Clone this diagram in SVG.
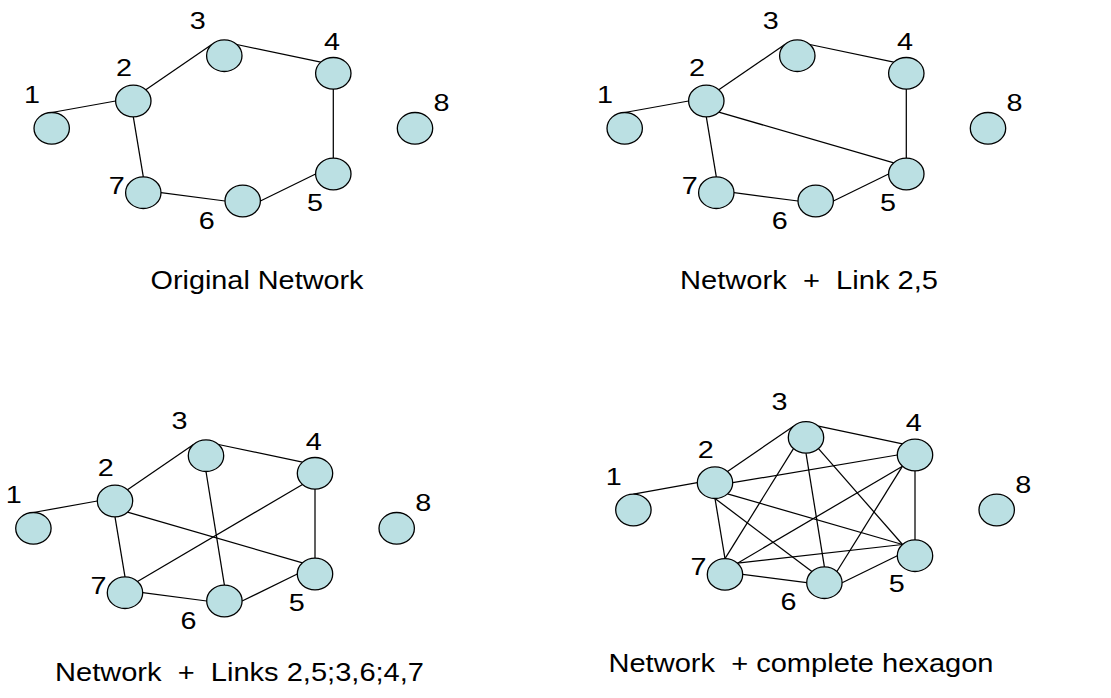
<svg xmlns="http://www.w3.org/2000/svg" width="1111" height="698" viewBox="0 0 1111 698">
  <style>
    .node { fill: #BBE0E3; stroke: #000; stroke-width: 1.3; }
    .edge { stroke: #000; stroke-width: 1.25; fill: none; }
    .lbl { font-family: "Liberation Sans", Arial, sans-serif; font-size: 23px; fill: #000; }
    .title { font-family: "Liberation Sans", Arial, sans-serif; font-size: 25px; fill: #000; white-space: pre; }
  </style>
  <defs>
    <!-- Node shape shared by every panel -->
    <ellipse id="dot" class="node" cx="0" cy="0" rx="17.7" ry="15.8"/>
  </defs>
  <rect width="1111" height="698" fill="#fff"/>

  <!-- Connectors: each panel uses the same local layout, shifted -->
  <g id="connectors">
    <g id="edges-original" transform="translate(0,0)">
      <line class="edge" x1="51.7" y1="112.5" x2="115.6" y2="101"/>
      <line class="edge" x1="145.8" y1="89.8" x2="211.8" y2="44.5"/>
      <line class="edge" x1="236.8" y1="44.5" x2="320.8" y2="62.1"/>
      <line class="edge" x1="333.3" y1="89.1" x2="333.3" y2="158.2"/>
      <line class="edge" x1="315.6" y1="174" x2="260.4" y2="201"/>
      <line class="edge" x1="225" y1="201" x2="161" y2="192.7"/>
      <line class="edge" x1="133.3" y1="116.8" x2="143.3" y2="176.9"/>
    </g>
    <g id="edges-link25" transform="translate(573,0)">
      <line class="edge" x1="51.7" y1="112.5" x2="115.6" y2="101"/>
      <line class="edge" x1="145.8" y1="89.8" x2="211.8" y2="44.5"/>
      <line class="edge" x1="236.8" y1="44.5" x2="320.8" y2="62.1"/>
      <line class="edge" x1="333.3" y1="89.1" x2="333.3" y2="158.2"/>
      <line class="edge" x1="315.6" y1="174" x2="260.4" y2="201"/>
      <line class="edge" x1="225" y1="201" x2="161" y2="192.7"/>
      <line class="edge" x1="133.3" y1="116.8" x2="143.3" y2="176.9"/>
      <line class="edge" x1="145.8" y1="112.2" x2="320.8" y2="162.8"/>
    </g>
    <g id="edges-links3" transform="translate(-18.3,400)">
      <line class="edge" x1="51.7" y1="112.5" x2="115.6" y2="101"/>
      <line class="edge" x1="145.8" y1="89.8" x2="211.8" y2="44.5"/>
      <line class="edge" x1="236.8" y1="44.5" x2="320.8" y2="62.1"/>
      <line class="edge" x1="333.3" y1="89.1" x2="333.3" y2="158.2"/>
      <line class="edge" x1="315.6" y1="174" x2="260.4" y2="201"/>
      <line class="edge" x1="225" y1="201" x2="161" y2="192.7"/>
      <line class="edge" x1="133.3" y1="116.8" x2="143.3" y2="176.9"/>
      <line class="edge" x1="145.8" y1="112.2" x2="320.8" y2="162.8"/>
      <line class="edge" x1="224.3" y1="71.5" x2="242.7" y2="185.2"/>
      <line class="edge" x1="320.8" y1="84.5" x2="155.8" y2="181.5"/>
    </g>
    <g id="edges-hexagon" transform="translate(581.7,381.7)">
      <line class="edge" x1="51.7" y1="112.5" x2="115.6" y2="101"/>
      <line class="edge" x1="145.8" y1="89.8" x2="211.8" y2="44.5"/>
      <line class="edge" x1="236.8" y1="44.5" x2="320.8" y2="62.1"/>
      <line class="edge" x1="151" y1="101" x2="315.6" y2="73.3"/>
      <line class="edge" x1="145.8" y1="112.2" x2="320.8" y2="162.8"/>
      <line class="edge" x1="133.3" y1="116.8" x2="230.2" y2="189.8"/>
      <line class="edge" x1="133.3" y1="116.8" x2="143.3" y2="176.9"/>
      <line class="edge" x1="236.8" y1="66.9" x2="320.8" y2="162.8"/>
      <line class="edge" x1="224.3" y1="71.5" x2="242.7" y2="185.2"/>
      <line class="edge" x1="211.8" y1="66.9" x2="143.3" y2="176.9"/>
      <line class="edge" x1="333.3" y1="89.1" x2="333.3" y2="158.2"/>
      <line class="edge" x1="320.8" y1="84.5" x2="255.2" y2="189.8"/>
      <line class="edge" x1="320.8" y1="84.5" x2="155.8" y2="181.5"/>
      <line class="edge" x1="315.6" y1="174" x2="260.4" y2="201"/>
      <line class="edge" x1="155.8" y1="181.5" x2="320.8" y2="162.8"/>
      <line class="edge" x1="225" y1="201" x2="161" y2="192.7"/>
    </g>
  </g>

  <!-- Panel 1: original network -->
  <g id="panel-original" transform="translate(0,0)">
    <g id="p1-n1"><use href="#dot" x="51.7" y="128.3"/><text class="lbl" x="24" y="103" textLength="16" lengthAdjust="spacingAndGlyphs">1</text></g>
    <g id="p1-n2"><use href="#dot" x="133.3" y="101"/><text class="lbl" x="116" y="76" textLength="16" lengthAdjust="spacingAndGlyphs">2</text></g>
    <g id="p1-n3"><use href="#dot" x="224.3" y="55.7"/><text class="lbl" x="189.7" y="28.5" textLength="16" lengthAdjust="spacingAndGlyphs">3</text></g>
    <g id="p1-n4"><use href="#dot" x="333.3" y="73.3"/><text class="lbl" x="324" y="49.5" textLength="16" lengthAdjust="spacingAndGlyphs">4</text></g>
    <g id="p1-n5"><use href="#dot" x="333.3" y="174"/><text class="lbl" x="307" y="210.5" textLength="16" lengthAdjust="spacingAndGlyphs">5</text></g>
    <g id="p1-n6"><use href="#dot" x="242.7" y="201"/><text class="lbl" x="198.7" y="228.5" textLength="16" lengthAdjust="spacingAndGlyphs">6</text></g>
    <g id="p1-n7"><use href="#dot" x="143.3" y="192.7"/><text class="lbl" x="108.7" y="193.5" textLength="16" lengthAdjust="spacingAndGlyphs">7</text></g>
    <g id="p1-n8"><use href="#dot" x="415" y="128.3"/><text class="lbl" x="433.5" y="111.3" textLength="16" lengthAdjust="spacingAndGlyphs">8</text></g>
  </g>

  <!-- Panel 2: network plus link 2,5 -->
  <g id="panel-link25" transform="translate(573,0)">
    <g id="p2-n1"><use href="#dot" x="51.7" y="128.3"/><text class="lbl" x="24" y="103" textLength="16" lengthAdjust="spacingAndGlyphs">1</text></g>
    <g id="p2-n2"><use href="#dot" x="133.3" y="101"/><text class="lbl" x="116" y="76" textLength="16" lengthAdjust="spacingAndGlyphs">2</text></g>
    <g id="p2-n3"><use href="#dot" x="224.3" y="55.7"/><text class="lbl" x="189.7" y="28.5" textLength="16" lengthAdjust="spacingAndGlyphs">3</text></g>
    <g id="p2-n4"><use href="#dot" x="333.3" y="73.3"/><text class="lbl" x="324" y="49.5" textLength="16" lengthAdjust="spacingAndGlyphs">4</text></g>
    <g id="p2-n5"><use href="#dot" x="333.3" y="174"/><text class="lbl" x="307" y="210.5" textLength="16" lengthAdjust="spacingAndGlyphs">5</text></g>
    <g id="p2-n6"><use href="#dot" x="242.7" y="201"/><text class="lbl" x="198.7" y="228.5" textLength="16" lengthAdjust="spacingAndGlyphs">6</text></g>
    <g id="p2-n7"><use href="#dot" x="143.3" y="192.7"/><text class="lbl" x="108.7" y="193.5" textLength="16" lengthAdjust="spacingAndGlyphs">7</text></g>
    <g id="p2-n8"><use href="#dot" x="415" y="128.3"/><text class="lbl" x="433.5" y="111.3" textLength="16" lengthAdjust="spacingAndGlyphs">8</text></g>
  </g>

  <!-- Panel 3: network plus links 2,5 / 3,6 / 4,7 -->
  <g id="panel-links3" transform="translate(-18.3,400)">
    <g id="p3-n1"><use href="#dot" x="51.7" y="128.3"/><text class="lbl" x="24" y="103" textLength="16" lengthAdjust="spacingAndGlyphs">1</text></g>
    <g id="p3-n2"><use href="#dot" x="133.3" y="101"/><text class="lbl" x="116" y="76" textLength="16" lengthAdjust="spacingAndGlyphs">2</text></g>
    <g id="p3-n3"><use href="#dot" x="224.3" y="55.7"/><text class="lbl" x="189.7" y="28.5" textLength="16" lengthAdjust="spacingAndGlyphs">3</text></g>
    <g id="p3-n4"><use href="#dot" x="333.3" y="73.3"/><text class="lbl" x="324" y="49.5" textLength="16" lengthAdjust="spacingAndGlyphs">4</text></g>
    <g id="p3-n5"><use href="#dot" x="333.3" y="174"/><text class="lbl" x="307" y="210.5" textLength="16" lengthAdjust="spacingAndGlyphs">5</text></g>
    <g id="p3-n6"><use href="#dot" x="242.7" y="201"/><text class="lbl" x="198.7" y="228.5" textLength="16" lengthAdjust="spacingAndGlyphs">6</text></g>
    <g id="p3-n7"><use href="#dot" x="143.3" y="192.7"/><text class="lbl" x="108.7" y="193.5" textLength="16" lengthAdjust="spacingAndGlyphs">7</text></g>
    <g id="p3-n8"><use href="#dot" x="415" y="128.3"/><text class="lbl" x="433.5" y="111.3" textLength="16" lengthAdjust="spacingAndGlyphs">8</text></g>
  </g>

  <!-- Panel 4: network plus complete hexagon -->
  <g id="panel-hexagon" transform="translate(581.7,381.7)">
    <g id="p4-n1"><use href="#dot" x="51.7" y="128.3"/><text class="lbl" x="24" y="103" textLength="16" lengthAdjust="spacingAndGlyphs">1</text></g>
    <g id="p4-n2"><use href="#dot" x="133.3" y="101"/><text class="lbl" x="116" y="76" textLength="16" lengthAdjust="spacingAndGlyphs">2</text></g>
    <g id="p4-n3"><use href="#dot" x="224.3" y="55.7"/><text class="lbl" x="189.7" y="28.5" textLength="16" lengthAdjust="spacingAndGlyphs">3</text></g>
    <g id="p4-n4"><use href="#dot" x="333.3" y="73.3"/><text class="lbl" x="324" y="49.5" textLength="16" lengthAdjust="spacingAndGlyphs">4</text></g>
    <g id="p4-n5"><use href="#dot" x="333.3" y="174"/><text class="lbl" x="307" y="210.5" textLength="16" lengthAdjust="spacingAndGlyphs">5</text></g>
    <g id="p4-n6"><use href="#dot" x="242.7" y="201"/><text class="lbl" x="198.7" y="228.5" textLength="16" lengthAdjust="spacingAndGlyphs">6</text></g>
    <g id="p4-n7"><use href="#dot" x="143.3" y="192.7"/><text class="lbl" x="108.7" y="193.5" textLength="16" lengthAdjust="spacingAndGlyphs">7</text></g>
    <g id="p4-n8"><use href="#dot" x="415" y="128.3"/><text class="lbl" x="433.5" y="111.3" textLength="16" lengthAdjust="spacingAndGlyphs">8</text></g>
  </g>

  <!-- Panel captions -->
  <g id="captions">
    <text class="title" x="150.5" y="289" textLength="213" lengthAdjust="spacingAndGlyphs">Original Network</text>
    <text class="title" x="680" y="289.3" textLength="258" lengthAdjust="spacingAndGlyphs">Network  +  Link 2,5</text>
    <text class="title" x="55" y="681" textLength="369" lengthAdjust="spacingAndGlyphs">Network  +  Links 2,5;3,6;4,7</text>
    <text class="title" x="608.5" y="672" textLength="385" lengthAdjust="spacingAndGlyphs">Network  + complete hexagon</text>
  </g>
</svg>
